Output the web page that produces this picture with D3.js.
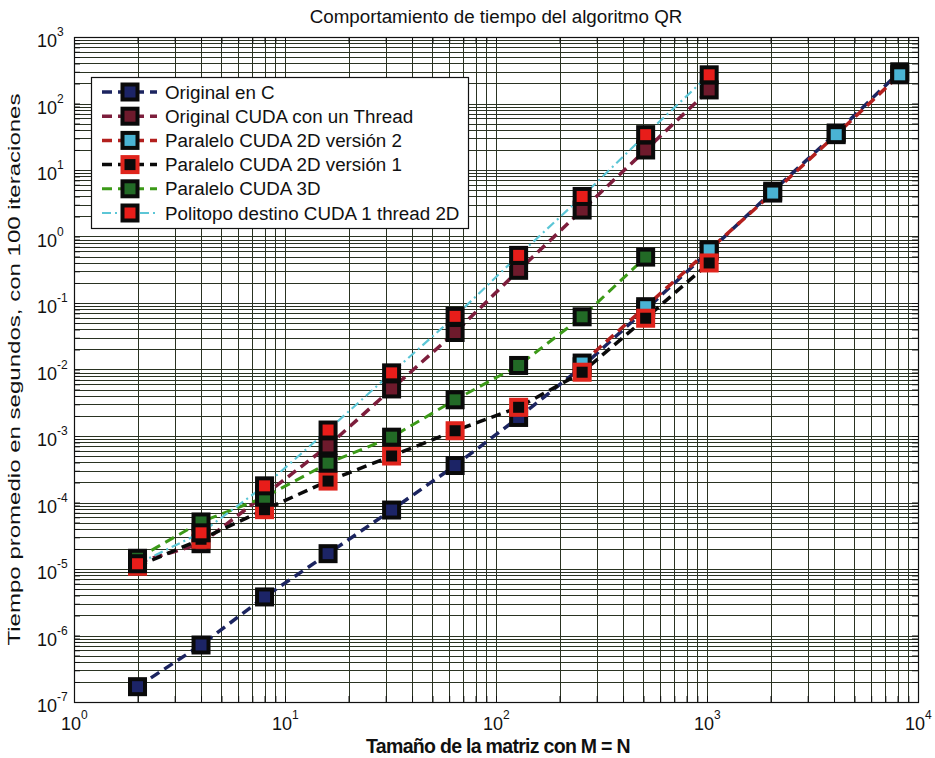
<!doctype html>
<html>
<head>
  <meta charset="utf-8">
  <title>Comportamiento de tiempo del algoritmo QR</title>
  <style>
    body { margin: 0; background: #fff; }
    #chart svg { display: block; font-family: "Liberation Sans", Arial, sans-serif; }
  </style>
</head>
<body>
  <div id="chart"></div>
  <script src="https://d3js.org/d3.v7.min.js"></script>
  <script>
    // tamaños de matriz
    const sizesShort = [2, 4, 8, 16, 32, 64, 128, 256, 512, 1024];
    const sizesLong = [2, 4, 8, 16, 32, 64, 128, 256, 512, 1024, 2048, 4096, 8192];
    const sizesV2 = [256, 512, 1024, 2048, 4096, 8192];
    const sizes3D = [2, 4, 8, 16, 32, 64, 128, 256, 512];

    // tiempos (s)
    const originalC = [1.7e-7, 7.2e-7, 3.8e-6, 1.7e-5, 7.7e-5, 3.6e-4, 1.9e-3, 1.1e-2, 0.08, 0.6, 4.8, 36, 300];
    const originalCuda = [1.25e-5, 2.4e-5, 1.3e-4, 7.1e-4, 5.1e-3, 0.036, 0.31, 2.5, 20, 160];
    const paraleloV2 = [0.0125, 0.088, 0.63, 4.5, 34, 270];
    const paraleloV1 = [1.1e-5, 2.8e-5, 7.8e-5, 2.1e-4, 5.0e-4, 1.2e-3, 2.7e-3, 9.1e-3, 0.059, 0.40];
    const paralelo3D = [1.45e-5, 5.1e-5, 1.2e-4, 3.9e-4, 9.6e-4, 3.5e-3, 1.15e-2, 0.062, 0.49];
    const politopo = [1.2e-5, 3.5e-5, 1.78e-4, 1.23e-3, 8.9e-3, 0.063, 0.52, 4.0, 34, 270];

    const seriesNames = [
      'Original en C',
      'Original CUDA con un Thread',
      'Paralelo CUDA 2D versión 2',
      'Paralelo CUDA 2D versión 1',
      'Paralelo CUDA 3D',
      'Politopo destino CUDA 1 thread 2D'
    ];
    const xTicks = [1, 10, 100, 1000, 10000];
    const yTicks = [1e-7, 1e-6, 1e-5, 1e-4, 1e-3, 1e-2, 1e-1, 1, 10, 100, 1000];

    const series = [
      { name: seriesNames[0], x: sizesLong, y: originalC, line: '#1c2560', dash: '10,6', lw: 3.5, edge: '#0a0a0a', fill: '#1c2466' },
      { name: seriesNames[1], x: sizesShort, y: originalCuda, line: '#7d1e3c', dash: '10,6', lw: 3.5, edge: '#0a0a0a', fill: '#6e1a2c' },
      { name: seriesNames[2], x: sizesV2, y: paraleloV2, line: '#b3201e', dash: '10,6', lw: 3.5, edge: '#0a0a0a', fill: '#4ab3d3' },
      { name: seriesNames[3], x: sizesShort, y: paraleloV1, line: '#0a0a0a', dash: '10,6', lw: 3.5, edge: '#e0241c', fill: '#0a0a0a' },
      { name: seriesNames[4], x: sizes3D, y: paralelo3D, line: '#3c9a18', dash: '10,6', lw: 3, edge: '#0a0a0a', fill: '#226a26' },
      { name: seriesNames[5], x: sizesShort, y: politopo, line: '#5cc6d6', dash: '9,4,2,4', lw: 2.2, edge: '#0a0a0a', fill: '#e81d1a' }
    ];

    const W = 935, H = 758;
    const margin = { left: 74, right: 17, top: 37, bottom: 56 };

    const svg = d3.select('#chart').append('svg')
      .attr('width', W)
      .attr('height', H);

    const x = d3.scaleLog().domain([1, 10000]).range([margin.left, W - margin.right]);
    const y = d3.scaleLog().domain([1e-7, 1000]).range([H - margin.bottom, margin.top]);

    // marcas menores: 1..9 por decada
    const logSteps = (lo, hi) => {
      const out = [];
      for (let e = lo; e < hi; e++) {
        for (let k = 1; k <= 9; k++) out.push(k * Math.pow(10, e));
      }
      out.push(Math.pow(10, hi));
      return out;
    };
    const xAll = logSteps(0, 4);
    const yAll = logSteps(-7, 3);

    const grid = svg.append('g').attr('stroke', '#2a3322').attr('stroke-width', 1);

    grid.selectAll('.gx').data(xAll.slice(1, -1)).join('line')
      .attr('x1', d => Math.round(x(d)) + 0.5).attr('x2', d => Math.round(x(d)) + 0.5)
      .attr('y1', y.range()[1]).attr('y2', y.range()[0]);

    grid.selectAll('.gy').data(yAll.slice(1, -1)).join('line')
      .attr('y1', d => Math.round(y(d)) + 0.5).attr('y2', d => Math.round(y(d)) + 0.5)
      .attr('x1', x.range()[0]).attr('x2', x.range()[1]);

    // ejes con marcas
    const axisGen = [
      d3.axisBottom(x).tickValues(xAll).tickSize(-6).tickFormat(''),
      d3.axisTop(x).tickValues(xAll).tickSize(-6).tickFormat(''),
      d3.axisLeft(y).tickValues(yAll).tickSize(-6).tickFormat(''),
      d3.axisRight(y).tickValues(yAll).tickSize(-6).tickFormat('')
    ];
    const axisPos = [
      `translate(0,${y.range()[0]})`,
      `translate(0,${y.range()[1]})`,
      `translate(${x.range()[0]},0)`,
      `translate(${x.range()[1]},0)`
    ];
    axisGen.forEach((a, i) => {
      const g = svg.append('g').attr('transform', axisPos[i]).call(a);
      g.select('.domain').remove();
      g.selectAll('line').attr('stroke', '#111');
    });

    svg.append('rect')
      .attr('x', x.range()[0] + 0.5).attr('y', y.range()[1] + 0.5)
      .attr('width', x.range()[1] - x.range()[0]).attr('height', y.range()[0] - y.range()[1])
      .attr('fill', 'none').attr('stroke', '#111').attr('stroke-width', 1.2);

    // etiquetas de los ejes (10^n)
    const xl = svg.append('g').attr('font-size', 18).attr('fill', '#111');
    xTicks.forEach(v => {
      const t = xl.append('text')
        .attr('x', x(v) - 3).attr('y', y.range()[0] + 28)
        .attr('text-anchor', 'middle');
      t.append('tspan').text('10');
      xl.append('text')
        .attr('x', x(v) + 7).attr('y', y.range()[0] + 17)
        .attr('font-size', 12)
        .text(Math.round(Math.log10(v)));
    });

    const yl = svg.append('g').attr('font-size', 18).attr('fill', '#111');
    yTicks.forEach(v => {
      const e = Math.round(Math.log10(v));
      yl.append('text')
        .attr('x', 57).attr('y', y(v) + 10)
        .attr('text-anchor', 'end')
        .text('10');
      yl.append('text')
        .attr('x', 57).attr('y', y(v) - 1)
        .attr('font-size', 12)
        .text(e);
    });

    svg.append('text')
      .attr('x', (x.range()[0] + x.range()[1]) / 2).attr('y', 23)
      .attr('text-anchor', 'middle').attr('font-size', 18.8).attr('fill', '#111')
      .text('Comportamiento de tiempo del algoritmo QR');

    svg.append('text')
      .attr('x', 498).attr('y', 753)
      .attr('text-anchor', 'middle').attr('font-size', 19.5).attr('font-weight', 'bold')
      .attr('fill', '#111').attr('letter-spacing', -0.7)
      .text('Tamaño de la matriz con M = N');

    svg.append('text')
      .attr('transform', `translate(20,${(y.range()[0] + y.range()[1]) / 2}) rotate(-90)`)
      .attr('text-anchor', 'middle').attr('font-size', 17).attr('fill', '#111')
      .attr('textLength', 552).attr('lengthAdjust', 'spacingAndGlyphs')
      .text('Tiempo promedio en segundos, con 100 iteraciones');

    // series
    const line = d3.line().x(d => x(d[0])).y(d => y(d[1]));
    const mk = 15;

    series.forEach(s => {
      const pts = s.x.map((v, i) => [v, s.y[i]]);
      const g = svg.append('g');
      g.append('path')
        .attr('d', line(pts))
        .attr('fill', 'none')
        .attr('stroke', s.line)
        .attr('stroke-width', s.lw)
        .attr('stroke-dasharray', s.dash);
      g.selectAll('rect').data(pts).join('rect')
        .attr('x', d => x(d[0]) - mk / 2).attr('y', d => y(d[1]) - mk / 2)
        .attr('width', mk).attr('height', mk)
        .attr('fill', s.fill).attr('stroke', s.edge).attr('stroke-width', 4);
    });

    // leyenda
    const lg = svg.append('g').attr('transform', 'translate(91,77)');
    lg.append('rect')
      .attr('x', 0.5).attr('y', 0.5).attr('width', 377).attr('height', 151)
      .attr('fill', '#fff').attr('stroke', '#111').attr('stroke-width', 1.2);
    series.forEach((s, i) => {
      const cy = 15 + i * 24.2;
      lg.append('line')
        .attr('x1', 11).attr('x2', 66).attr('y1', cy).attr('y2', cy)
        .attr('stroke', s.line).attr('stroke-width', s.lw)
        .attr('stroke-dasharray', s.dash);
      lg.append('rect')
        .attr('x', 39 - mk / 2).attr('y', cy - mk / 2)
        .attr('width', mk).attr('height', mk)
        .attr('fill', s.fill).attr('stroke', s.edge).attr('stroke-width', 4);
      lg.append('text')
        .attr('x', 74).attr('y', cy + 6.5)
        .attr('font-size', 18.8).attr('fill', '#111')
        .text(s.name);
    });
  </script>
</body>
</html>
